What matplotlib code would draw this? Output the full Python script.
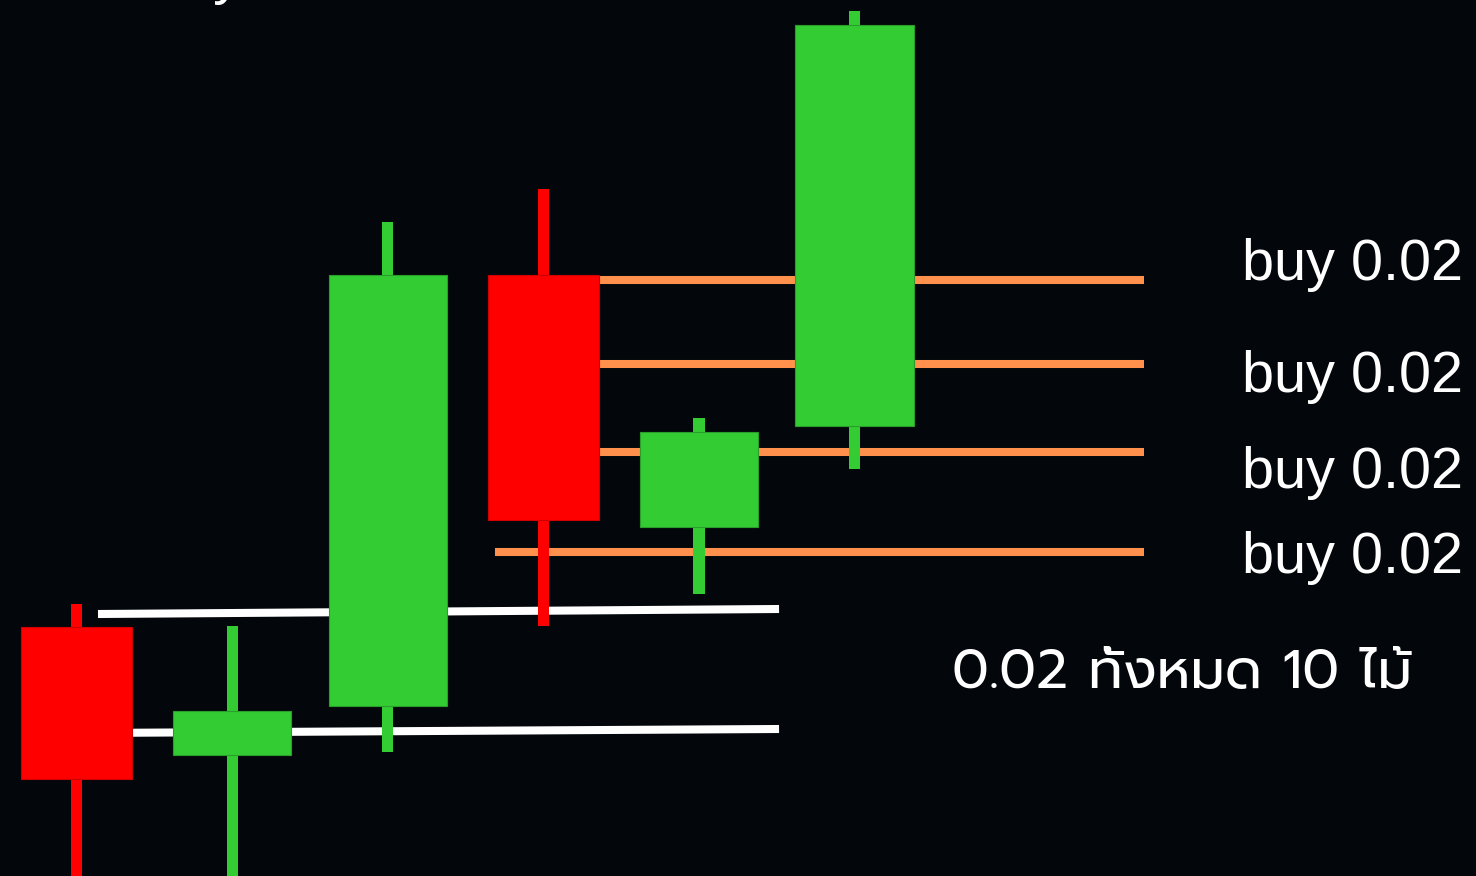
import matplotlib
matplotlib.use("Agg")
import matplotlib.pyplot as plt
import numpy as np

# candle data (price units, arbitrary scale)
opens  = [24.9, 12.1, 17.0, 60.1, 34.9, 45.0]
closes = [9.7, 16.5, 60.1, 35.6, 44.4, 85.1]
highs  = [27.2, 25.0, 65.4, 68.7, 45.8, 86.5]
lows   = [-0.5, -0.5, 12.4, 25.0, 28.2, 40.7]

# buy levels (orange) and white support lines
buy_levels = [59.6, 51.2, 42.4, 32.4]
buy_start, buy_end = 2.69, 6.86
support_x = [[0.138, 4.515], [0.06, 4.515]]
support_y = [[26.2, 26.7], [14.3, 14.7]]

buy_labels = ["buy 0.02", "buy 0.02", "buy 0.02", "buy 0.02"]
total_label = "0.02 ทั้งหมด 10 ไม้"

BG = "#03070b"
UP = "#33cc33"
DOWN = "#ff0000"
ORANGE = "#ff914d"

fig = plt.figure(figsize=(14.76, 8.76), dpi=100, facecolor=BG)
ax = fig.add_axes([0, 0, 1, 1])
ax.set_facecolor(BG)

x = np.arange(len(opens))
up = np.array(closes) >= np.array(opens)
colors = [UP if u else DOWN for u in up]
edges = ["#2a9e2a" if u else "#d00000" for u in up]
body_w = [0.76 if u else 0.71 for u in up]
bottoms = np.minimum(opens, closes)
heights = np.abs(np.array(closes) - np.array(opens))

# wicks
ax.bar(x, np.array(highs) - np.array(lows), bottom=lows, width=0.072,
       color=colors, linewidth=0, zorder=3)
# bodies
ax.bar(x, heights, bottom=bottoms, width=body_w, color=colors,
       edgecolor=edges, linewidth=0.8, zorder=4)

for lvl in buy_levels:
    ax.plot([buy_start, buy_end], [lvl, lvl], color=ORANGE, lw=5.8,
            solid_capstyle="butt", zorder=2)
for sx, sy in zip(support_x, support_y):
    ax.plot(sx, sy, color="white", lw=5.8, solid_capstyle="butt", zorder=2)

# labels
label_base = [280, 392, 488, 573]
for lab, py in zip(buy_labels, label_base):
    ax.text(1242 / 1476, 1 - py / 876, lab, transform=ax.transAxes,
            ha="left", va="baseline", color="white", fontsize=41.5,
            family="Liberation Sans")
ax.text(952 / 1476, 1 - 688 / 876, total_label, transform=ax.transAxes,
        ha="left", va="baseline", color="white", fontsize=39.5,
        family=["Prompt", "DejaVu Sans"])
# partly hidden heading above the frame
ax.text(242 / 1476, 1 + 7 / 876, "buy", transform=ax.transAxes,
        ha="right", va="baseline", color="white", fontsize=41.5,
        family="Liberation Sans", clip_on=False)

ax.set_xlim(-0.4917, 8.994)
ax.set_ylim(0, 87.6)
ax.axis("off")

fig.savefig("out.png", dpi=100, facecolor=BG)
